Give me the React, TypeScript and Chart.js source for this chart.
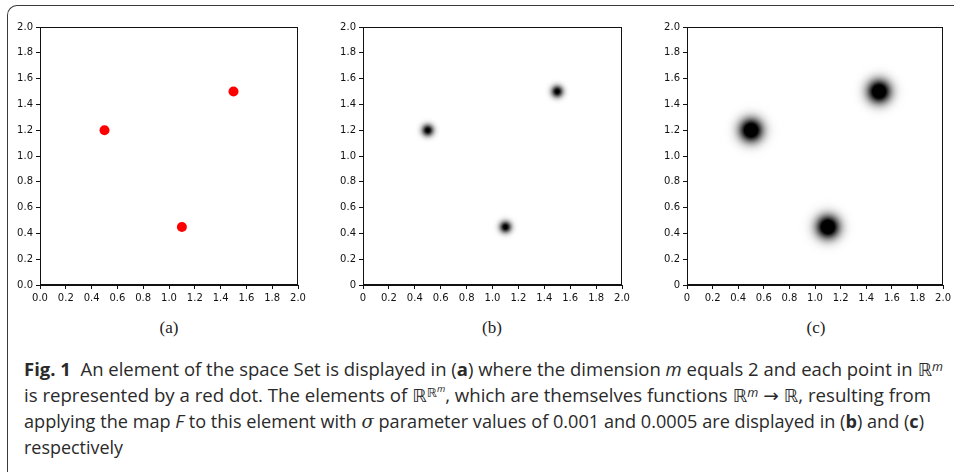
import React, { useEffect, useLayoutEffect, useRef } from "react";
import { Chart, registerables } from "chart.js";

Chart.register(...registerables);

// ---- data ----
const pointX = [0.5, 1.1, 1.5];
const pointY = [1.2, 0.45, 1.5];
const tickValues = [0, 0.2, 0.4, 0.6, 0.8, 1.0, 1.2, 1.4, 1.6, 1.8, 2.0];
const tickLabelsA = ["0.0", "0.2", "0.4", "0.6", "0.8", "1.0", "1.2", "1.4", "1.6", "1.8", "2.0"];
const tickLabelsBC = ["0", "0.2", "0.4", "0.6", "0.8", "1.0", "1.2", "1.4", "1.6", "1.8", "2.0"];
const panelLabels = ["(a)", "(b)", "(c)"];

// ---- styles ----
const TICK_FONT = { family: "'DejaVu Sans', sans-serif", size: 10 };
const TICK_COLOR = "#111";

function makeBlob(s: number, k: number): HTMLCanvasElement {
  const R = Math.ceil(s * 4);
  const c = document.createElement("canvas");
  c.width = 2 * R;
  c.height = 2 * R;
  const g = c.getContext("2d")!;
  const img = g.createImageData(2 * R, 2 * R);
  for (let py = 0; py < 2 * R; py++) {
    for (let px = 0; px < 2 * R; px++) {
      const dx = px + 0.5 - R;
      const dy = py + 0.5 - R;
      const a = Math.min(1, k * Math.exp(-(dx * dx + dy * dy) / (2 * s * s)));
      const i = (py * 2 * R + px) * 4;
      img.data[i] = 0;
      img.data[i + 1] = 0;
      img.data[i + 2] = 0;
      img.data[i + 3] = Math.round(a * 255);
    }
  }
  g.putImageData(img, 0, 0);
  return c;
}

const framePlugin = {
  id: "frame",
  afterDatasetsDraw(chart: any) {
    const { ctx, chartArea } = chart;
    ctx.save();
    ctx.strokeStyle = "#111";
    ctx.lineWidth = 1;
    ctx.strokeRect(
      Math.round(chartArea.left) + 0.5,
      Math.round(chartArea.top) + 0.5,
      Math.round(chartArea.right - chartArea.left) - 1,
      Math.round(chartArea.bottom - chartArea.top) - 1
    );
    ctx.restore();
  },
};

type PanelCfg = {
  left: number;
  width: number;
  height: number;
  padding: { left: number; right: number; top: number; bottom: number };
  labels: string[];
  kind: "dot" | "blob";
  sigma?: number;
  gain?: number;
};

function axis(labels: string[], isX: boolean) {
  return {
    type: "linear" as const,
    min: 0,
    max: 2,
    afterBuildTicks: (s: any) => {
      s.ticks = tickValues.map((v) => ({ value: v }));
    },
    afterFit: (s: any) => {
      if (isX) s.height = 20;
      else s.width = 30;
    },
    ticks: {
      callback: (_v: any, i: number) => labels[i],
      font: TICK_FONT,
      color: TICK_COLOR,
      padding: 3,
      maxRotation: 0,
      autoSkip: false,
    },
    grid: {
      display: true,
      drawOnChartArea: false,
      drawTicks: true,
      tickLength: 4,
      tickColor: "#111",
      tickWidth: 1,
    },
    border: { display: true, color: "#111", width: 1 },
  };
}

function Panel({ cfg }: { cfg: PanelCfg }) {
  const ref = useRef<HTMLCanvasElement>(null);
  useEffect(() => {
    const data = pointX.map((x, i) => ({ x, y: pointY[i] }));
    const ds: any =
      cfg.kind === "dot"
        ? {
            data,
            pointStyle: "circle",
            pointRadius: 5,
            backgroundColor: "#ff0000",
            borderWidth: 0,
          }
        : {
            data,
            pointStyle: makeBlob(cfg.sigma!, cfg.gain!),
            pointRadius: 5,
            backgroundColor: "#000",
            borderWidth: 0,
          };
    const chart = new Chart(ref.current!, {
      type: "scatter",
      data: { datasets: [ds] },
      options: {
        animation: false,
        responsive: false,
        maintainAspectRatio: false,
        devicePixelRatio: 1,
        events: [],
        layout: { padding: cfg.padding },
        plugins: { legend: { display: false }, tooltip: { enabled: false } },
        scales: { x: axis(cfg.labels, true), y: axis(cfg.labels, false) } as any,
      },
      plugins: [framePlugin],
    });
    return () => chart.destroy();
  }, []);
  return (
    <canvas
      ref={ref}
      width={cfg.width}
      height={cfg.height}
      style={{ position: "absolute", left: cfg.left, top: 0, width: cfg.width, height: cfg.height }}
    />
  );
}

const panels: PanelCfg[] = [
  { left: 0, width: 320, height: 310, padding: { left: 10, right: 22, top: 27, bottom: 5 }, labels: tickLabelsA, kind: "dot" },
  { left: 320, width: 320, height: 310, padding: { left: 13, right: 18, top: 27, bottom: 5 }, labels: tickLabelsBC, kind: "blob", sigma: 4, gain: 1.1 },
  { left: 640, width: 314, height: 310, padding: { left: 17, right: 8, top: 27, bottom: 5 }, labels: tickLabelsBC, kind: "blob", sigma: 8, gain: 1.4 },
];
const labelCenters = [169, 492, 816];

const supStyle: React.CSSProperties = { position: "relative", top: "-0.45em", fontSize: "0.68em", fontStyle: "italic" };
const RR = "ℝ";
const mathFont = "'DejaVu Sans', sans-serif";

function Rm() {
  return (
    <span>
      <span style={{ fontFamily: mathFont }}>{RR}</span>
      <span style={supStyle}>m</span>
    </span>
  );
}

function RRm() {
  return (
    <span>
      <span style={{ fontFamily: mathFont }}>{RR}</span>
      <span style={{ position: "relative", top: "-0.45em", fontSize: "0.68em" }}>
        <span style={{ fontFamily: mathFont }}>{RR}</span>
        <span style={{ position: "relative", top: "-0.45em", fontSize: "0.75em", fontStyle: "italic" }}>m</span>
      </span>
    </span>
  );
}

const captionTargets = [919, 907, 900, 99];
const captionBaselines = [376, 402, 428, 454];

export default function App() {
  const lineRefs = useRef<(HTMLSpanElement | null)[]>([]);
  useLayoutEffect(() => {
    lineRefs.current.forEach((el, i) => {
      if (!el) return;
      const w = el.getBoundingClientRect().width;
      if (w > 0) {
        el.style.transform = `scaleX(${captionTargets[i] / w})`;
      }
    });
  }, []);

  const lines: React.ReactNode[] = [
    <>
      <b>Fig. 1</b>
      {"\u00a0\u00a0"}An element of the space Set is displayed in (<b>a</b>) where the dimension <i>m</i> equals 2 and each point in <Rm />
    </>,
    <>
      is represented by a red dot. The elements of <RRm />, which are themselves functions <Rm /> <span style={{ fontFamily: mathFont }}>→</span>{" "}
      <span style={{ fontFamily: mathFont }}>{RR}</span>, resulting from
    </>,
    <>
      applying the map <i>F</i> to this element with <i style={{ fontFamily: "'DejaVu Serif', serif" }}>σ</i> parameter values of 0.001 and 0.0005 are displayed in (<b>b</b>) and (<b>c</b>)
    </>,
    <>respectively</>,
  ];

  return (
    <div
      style={{
        position: "fixed",
        left: 0,
        top: 0,
        width: 954,
        height: 472,
        background: "#fff",
        overflow: "hidden",
      }}
    >
      <div
        style={{
          position: "absolute",
          left: 7,
          top: 5,
          width: 1000,
          height: 600,
          borderTop: "1.5px solid #3a3a3a",
          borderLeft: "1.5px solid #3a3a3a",
          borderTopLeftRadius: 10,
        }}
      />
      {panels.map((p, i) => (
        <Panel key={i} cfg={p} />
      ))}
      {panelLabels.map((t, i) => (
        <div
          key={t}
          style={{
            position: "absolute",
            left: labelCenters[i] - 50,
            width: 100,
            top: 318,
            lineHeight: "20px",
            textAlign: "center",
            fontFamily: "'Liberation Serif', serif",
            fontSize: 17,
            color: "#222",
          }}
        >
          {t}
        </div>
      ))}
      {lines.map((ln, i) => (
        <div
          key={i}
          style={{
            position: "absolute",
            left: 24,
            top: captionBaselines[i] - 16,
            fontFamily: "'Open Sans', 'DejaVu Sans', sans-serif",
            fontSize: 18,
            lineHeight: "18px",
            color: "#2a2a2a",
            whiteSpace: "nowrap",
          }}
        >
          <span
            ref={(el) => {
              lineRefs.current[i] = el;
            }}
            style={{ display: "inline-block", transformOrigin: "0 0" }}
          >
            {ln}
          </span>
        </div>
      ))}
    </div>
  );
}
